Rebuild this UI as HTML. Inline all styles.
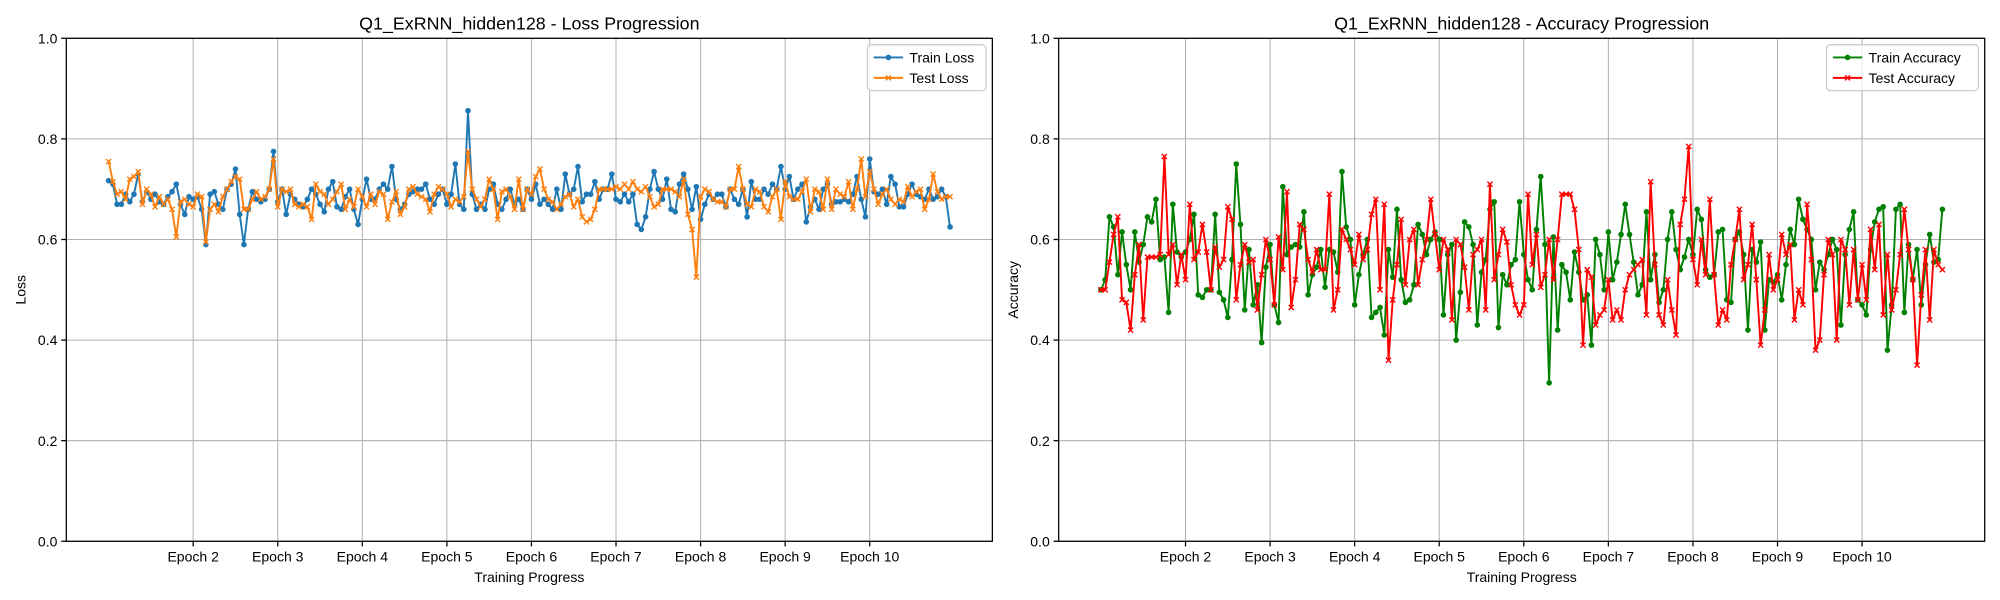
<!DOCTYPE html>
<html><head><meta charset="utf-8"><style>
body{margin:0;background:#fff;}
svg{display:block;font-family:"Liberation Sans","DejaVu Sans",sans-serif;}
</style></head><body>
<svg id="chart" width="2000" height="600" viewBox="0 0 1568 470" preserveAspectRatio="none"></svg>
<script>
const epochLabels=["Epoch 2","Epoch 3","Epoch 4","Epoch 5","Epoch 6","Epoch 7","Epoch 8","Epoch 9","Epoch 10"];
const epochIdx=[20,40,60,80,100,120,140,160,180];
const yTicks=[0.0,0.2,0.4,0.6,0.8,1.0];
const trainLoss=[.717,.71,.67,.67,.69,.675,.69,.73,.675,.695,.68,.69,.675,.67,.685,.695,.71,.67,.65,.685,
.68,.685,.66,.59,.69,.695,.67,.66,.70,.71,.74,.65,.59,.66,.695,.68,.675,.68,.70,.775,
.675,.70,.65,.69,.68,.67,.665,.68,.70,.69,.67,.655,.70,.715,.665,.66,.685,.70,.66,.63,
.68,.72,.68,.68,.70,.71,.70,.745,.68,.66,.67,.69,.695,.70,.70,.71,.68,.67,.69,.70,
.67,.69,.75,.67,.66,.856,.69,.66,.67,.66,.70,.71,.67,.66,.68,.70,.67,.68,.66,.70,
.68,.71,.67,.68,.67,.66,.70,.66,.73,.69,.70,.745,.675,.69,.69,.715,.68,.70,.70,.73,
.68,.675,.69,.675,.69,.63,.62,.645,.70,.735,.70,.68,.72,.66,.655,.71,.73,.70,.66,.705,
.64,.67,.69,.68,.69,.69,.665,.70,.68,.67,.70,.645,.715,.68,.68,.70,.69,.71,.70,.745,
.70,.725,.68,.70,.71,.635,.665,.68,.66,.70,.71,.67,.675,.675,.68,.675,.69,.725,.68,.645,
.76,.695,.69,.70,.67,.725,.71,.665,.665,.69,.71,.69,.685,.68,.70,.68,.685,.70,.685,.625];
const testLoss=[.755,.715,.69,.695,.68,.72,.725,.735,.67,.70,.69,.665,.685,.67,.68,.66,.605,.675,.68,.67,
.665,.69,.685,.595,.66,.67,.655,.685,.70,.715,.725,.72,.66,.66,.68,.695,.68,.685,.70,.76,
.665,.70,.695,.70,.67,.665,.67,.665,.64,.71,.695,.69,.67,.68,.695,.71,.66,.68,.665,.70,
.685,.665,.69,.67,.695,.69,.64,.675,.695,.65,.665,.70,.705,.69,.685,.68,.655,.69,.705,.70,
.69,.665,.68,.675,.685,.775,.70,.68,.665,.68,.72,.70,.64,.695,.70,.685,.66,.72,.66,.70,
.69,.725,.74,.70,.68,.675,.66,.67,.685,.69,.665,.68,.645,.635,.64,.66,.70,.70,.70,.70,
.705,.70,.71,.70,.715,.70,.695,.705,.685,.665,.67,.70,.70,.70,.695,.685,.72,.65,.62,.525,
.685,.70,.695,.68,.675,.675,.665,.70,.70,.745,.70,.67,.665,.70,.695,.665,.655,.685,.70,.64,
.715,.685,.68,.68,.695,.72,.655,.70,.695,.66,.72,.66,.70,.69,.685,.715,.66,.70,.76,.685,
.735,.70,.67,.69,.70,.68,.67,.68,.675,.705,.685,.695,.70,.66,.68,.73,.695,.68,.685,.685];
const trainAcc=[.50,.52,.645,.625,.53,.615,.55,.50,.615,.555,.59,.645,.635,.68,.56,.565,.455,.67,.575,.565,
.575,.60,.65,.49,.485,.50,.50,.65,.495,.48,.445,.56,.75,.63,.46,.58,.47,.51,.395,.545,
.59,.47,.435,.705,.57,.585,.59,.585,.655,.49,.53,.545,.58,.505,.58,.575,.535,.735,.625,.60,
.47,.53,.57,.60,.445,.455,.465,.41,.58,.525,.66,.52,.475,.48,.51,.63,.61,.57,.60,.615,
.60,.45,.57,.59,.40,.495,.635,.625,.59,.43,.535,.56,.66,.675,.425,.53,.51,.55,.56,.675,
.57,.52,.50,.62,.725,.59,.315,.605,.42,.55,.535,.48,.575,.535,.48,.49,.39,.60,.57,.50,
.615,.52,.555,.61,.67,.61,.555,.49,.51,.655,.52,.57,.475,.50,.60,.655,.58,.54,.565,.60,
.57,.66,.64,.54,.525,.53,.615,.62,.48,.475,.60,.615,.57,.42,.58,.555,.595,.42,.52,.515,
.53,.48,.55,.62,.59,.68,.64,.62,.60,.50,.555,.54,.57,.60,.58,.43,.57,.62,.655,.48,
.47,.45,.58,.635,.66,.665,.38,.47,.66,.67,.455,.59,.52,.58,.47,.55,.61,.555,.56,.66];
const testAcc=[.50,.50,.555,.61,.645,.48,.475,.42,.53,.59,.44,.565,.565,.565,.57,.765,.57,.59,.51,.57,
.52,.67,.56,.575,.63,.575,.50,.585,.545,.56,.665,.64,.48,.55,.59,.555,.56,.46,.53,.60,
.56,.47,.605,.54,.695,.465,.52,.63,.62,.56,.535,.58,.54,.54,.69,.46,.50,.62,.60,.58,
.55,.61,.56,.58,.65,.68,.50,.67,.36,.48,.55,.64,.51,.60,.62,.51,.56,.60,.68,.61,
.54,.60,.58,.44,.60,.59,.545,.46,.57,.58,.60,.46,.71,.52,.57,.62,.595,.51,.47,.45,
.47,.69,.55,.61,.505,.53,.60,.52,.60,.69,.69,.69,.66,.58,.39,.54,.525,.43,.45,.46,
.52,.44,.46,.44,.50,.53,.54,.55,.56,.45,.715,.55,.45,.43,.52,.46,.41,.63,.68,.785,
.56,.51,.60,.53,.68,.53,.43,.46,.44,.55,.60,.66,.52,.55,.63,.52,.39,.46,.57,.50,
.52,.61,.57,.59,.44,.50,.47,.67,.56,.38,.40,.53,.60,.57,.40,.60,.58,.47,.58,.48,
.55,.48,.62,.54,.63,.45,.57,.46,.50,.57,.66,.58,.52,.35,.49,.58,.44,.58,.55,.54];

const NS="http://www.w3.org/2000/svg";
const svg=document.getElementById('chart');
function mk(tag,attrs,parent,text){const e=document.createElementNS(NS,tag);for(const k in attrs)e.setAttribute(k,attrs[k]);if(text!==undefined)e.textContent=text;(parent||svg).appendChild(e);return e;}

function panel(x0,x1,title,ylabel,series,legend){
  const yT=30,yB=424;
  const n=trainLoss.length;
  const xmin=-10,xmax=n-1+10;
  const sx=i=>x0+(i-xmin)/(xmax-xmin)*(x1-x0);
  const sy=v=>yB-v*(yB-yT);
  const g=mk('g',{});
  
  
  const grid=mk('g',{},g);
  
  
  yTicks.forEach(v=>{mk('line',{x1:x0,x2:x1,y1:sy(v),y2:sy(v),stroke:'#b0b0b0','stroke-width':0.8},grid);});
  epochIdx.forEach(i=>{mk('line',{x1:sx(i),x2:sx(i),y1:yT,y2:yB,stroke:'#b0b0b0','stroke-width':0.8},grid);});
  series.forEach(s=>{
    const sg=mk('g',{},g);
    
    
    const pts=s.data.map((v,i)=>sx(i).toFixed(1)+','+sy(v).toFixed(1)).join(' ');
    mk('polyline',{points:pts,fill:'none',stroke:s.color,'stroke-width':1.5,'stroke-linejoin':'round'},sg);
    s.data.forEach((v,i)=>{
      const cx=sx(i),cy=sy(v);
      if(s.marker==='o'){mk('circle',{cx:cx,cy:cy,r:2.2,fill:s.color},sg);}
      else{mk('path',{d:`M${cx-2},${cy-2}L${cx+2},${cy+2}M${cx-2},${cy+2}L${cx+2},${cy-2}`,stroke:s.color,'stroke-width':1.1},sg);}
    });
  });
  mk('rect',{x:x0,y:yT,width:x1-x0,height:yB-yT,fill:'none',stroke:'#000','stroke-width':1},g);
  yTicks.forEach(v=>{
    mk('line',{x1:x0-4,x2:x0,y1:sy(v),y2:sy(v),stroke:'#000'},g);
    const t=mk('text',{x:x0-7,y:sy(v)+4,'text-anchor':'end','font-size':11},g,v.toFixed(1));
    
    
  });
  epochIdx.forEach((i,k)=>{
    mk('line',{x1:sx(i),x2:sx(i),y1:yB,y2:yB+4,stroke:'#000'},g);
    const t=mk('text',{x:sx(i),y:yB+16,'text-anchor':'middle','font-size':11},g,epochLabels[k]);
    
    
  });
  const tt=mk('text',{x:(x0+x1)/2,y:23,'text-anchor':'middle','font-size':14},g,title);
  
  
  const xl=mk('text',{x:(x0+x1)/2,y:456,'text-anchor':'middle','font-size':11},g,'Training Progress');
  
  
  const yl=mk('text',{x:0,y:0,'text-anchor':'middle','font-size':11,transform:`translate(${x0-32},${(yT+yB)/2}) rotate(-90)`},g,ylabel);
  
  
  const lg=mk('g',{},g);
  
  
  const lw=legend.w,lx=x1-lw-5,ly=35;
  mk('rect',{x:lx,y:ly,width:lw,height:36,rx:3,fill:'#fff',stroke:'#ccc','fill-opacity':0.8},lg);
  series.forEach((s,k)=>{
    const y=ly+10+k*16;
    const e=mk('g',{},lg);
    
    
    mk('line',{x1:lx+5,x2:lx+28,y1:y,y2:y,stroke:s.color,'stroke-width':1.5},e);
    if(s.marker==='o')mk('circle',{cx:lx+16.5,cy:y,r:2.2,fill:s.color},e);
    else mk('path',{d:`M${lx+14.5},${y-2}L${lx+18.5},${y+2}M${lx+14.5},${y+2}L${lx+18.5},${y-2}`,stroke:s.color,'stroke-width':1.1},e);
    mk('text',{x:lx+33,y:y+4,'font-size':11},e,s.label);
  });
}
panel(52,778,'Q1_ExRNN_hidden128 - Loss Progression','Loss',
 [{name:'train-loss-series',label:'Train Loss',data:trainLoss,color:'#1f77b4',marker:'o'},
  {name:'test-loss-series',label:'Test Loss',data:testLoss,color:'#ff7f0e',marker:'x'}],{w:93});
panel(830,1556,'Q1_ExRNN_hidden128 - Accuracy Progression','Accuracy',
 [{name:'train-accuracy-series',label:'Train Accuracy',data:trainAcc,color:'#008000',marker:'o'},
  {name:'test-accuracy-series',label:'Test Accuracy',data:testAcc,color:'#ff0000',marker:'x'}],{w:119});
</script>
</body></html>
